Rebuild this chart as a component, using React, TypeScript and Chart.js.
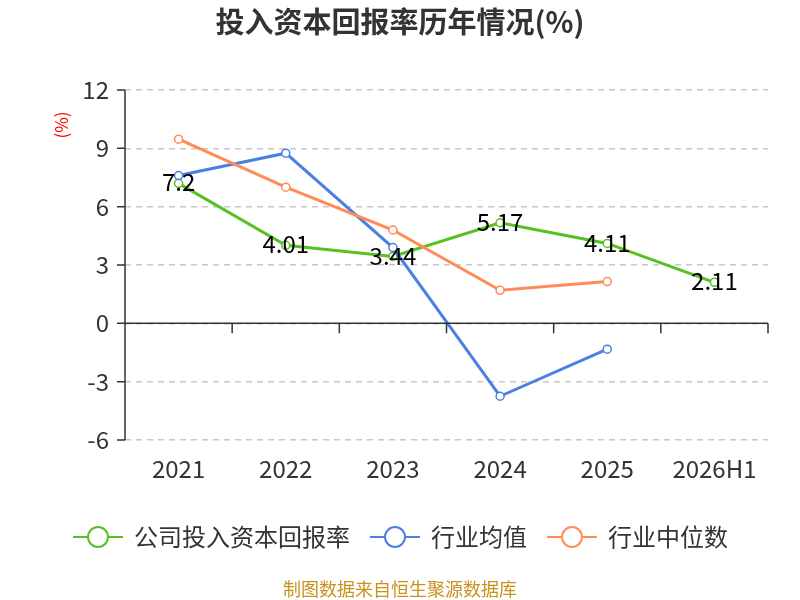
import { useEffect, useRef } from 'react';
import Chart from 'chart.js/auto';

const years = ['2021', '2022', '2023', '2024', '2025', '2026H1'];
const companyRoic = [7.2, 4.01, 3.44, 5.17, 4.11, 2.11];
const industryMean = [7.6, 8.75, 3.9, -3.75, -1.33, null];
const industryMedian = [9.47, 7.0, 4.8, 1.7, 2.15, null];
const seriesNames = ['公司投入资本回报率', '行业均值', '行业中位数'];
const seriesColors = ['#57c124', '#4a7fe3', '#ff8b56'];

const FONT = '"Noto Sans CJK SC", "Noto Sans", sans-serif';

const decorPlugin = {
    id: 'decor',
    afterDraw(chart: any) {
        const { ctx, chartArea } = chart;
        const yScale = chart.scales.y;
        const xScale = chart.scales.x;
        ctx.save();

        // axis line, zero line, tick marks
        ctx.strokeStyle = '#333';
        ctx.lineWidth = 1.5;
        ctx.setLineDash([]);
        ctx.beginPath();
        ctx.moveTo(chartArea.left, chartArea.top);
        ctx.lineTo(chartArea.left, chartArea.bottom);
        yScale.ticks.forEach((t: any) => {
            const y = yScale.getPixelForValue(t.value);
            ctx.moveTo(chartArea.left - 8, y);
            ctx.lineTo(chartArea.left, y);
        });
        const zeroY = yScale.getPixelForValue(0);
        ctx.moveTo(chartArea.left, zeroY);
        ctx.lineTo(chartArea.right, zeroY);
        const step = (chartArea.right - chartArea.left) / years.length;
        for (let i = 1; i <= years.length; i++) {
            const x = chartArea.left + step * i;
            ctx.moveTo(x, zeroY);
            ctx.lineTo(x, zeroY + 10);
        }
        ctx.stroke();

        // data labels for company series
        ctx.fillStyle = '#000';
        ctx.font = `24px ${FONT}`;
        ctx.textAlign = 'center';
        ctx.textBaseline = 'middle';
        companyRoic.forEach((v, i) => {
            ctx.fillText(String(v), xScale.getPixelForValue(i), yScale.getPixelForValue(v) - 1);
        });

        // title
        ctx.fillStyle = '#333';
        ctx.font = `bold 29px ${FONT}`;
        ctx.fillText('投入资本回报率历年情况(%)', 400, 22);

        // y axis unit
        ctx.save();
        ctx.translate(62, 125);
        ctx.rotate(-Math.PI / 2);
        ctx.fillStyle = '#ff0000';
        ctx.font = `17px ${FONT}`;
        ctx.fillText('(%)', 0, 0);
        ctx.restore();

        // legend
        const legendX = [73, 370, 547];
        const legendY = 537;
        ctx.textAlign = 'left';
        ctx.font = `24px ${FONT}`;
        seriesNames.forEach((name, i) => {
            const x0 = legendX[i];
            ctx.strokeStyle = seriesColors[i];
            ctx.lineWidth = 2;
            ctx.beginPath();
            ctx.moveTo(x0, legendY);
            ctx.lineTo(x0 + 50, legendY);
            ctx.stroke();
            ctx.beginPath();
            ctx.arc(x0 + 25, legendY, 10, 0, Math.PI * 2);
            ctx.fillStyle = '#fff';
            ctx.fill();
            ctx.stroke();
            ctx.fillStyle = '#333';
            ctx.fillText(name, x0 + 61, legendY);
        });

        // footer
        ctx.textAlign = 'center';
        ctx.fillStyle = '#c8921e';
        ctx.font = `18px ${FONT}`;
        ctx.fillText('制图数据来自恒生聚源数据库', 400, 589);

        ctx.restore();
    },
};

export default function App() {
    const canvasRef = useRef<HTMLCanvasElement>(null);

    useEffect(() => {
        if (!canvasRef.current) return;
        const makeSet = (i: number, data: (number | null)[]) => ({
            label: seriesNames[i],
            data,
            borderColor: seriesColors[i],
            backgroundColor: '#fff',
            borderWidth: 3,
            pointRadius: 4,
            pointBorderWidth: 1.5,
            pointBackgroundColor: '#fff',
            pointBorderColor: seriesColors[i],
            spanGaps: false,
        });
        const chart = new Chart(canvasRef.current, {
            type: 'line',
            data: {
                labels: years,
                datasets: [
                    makeSet(2, industryMedian),
                    makeSet(1, industryMean),
                    makeSet(0, companyRoic),
                ],
            },
            options: {
                responsive: false,
                animation: false,
                layout: { padding: { top: 90, right: 32, bottom: 110, left: 0 } },
                plugins: {
                    legend: { display: false },
                    tooltip: { enabled: false },
                    title: { display: false },
                },
                scales: {
                    x: {
                        offset: true,
                        grid: { display: false },
                        border: { display: false },
                        ticks: { color: '#333', font: { family: FONT, size: 24 }, padding: 6 },
                        afterFit: (s: any) => { s.height = 50; },
                    },
                    y: {
                        min: -6,
                        max: 12,
                        grid: { color: '#c8c8c8', lineWidth: 1.5, drawTicks: false },
                        border: { display: false, dash: [6, 5] },
                        ticks: { stepSize: 3, color: '#333', font: { family: FONT, size: 24 }, padding: 16 },
                        afterFit: (s: any) => { s.width = 125; },
                    },
                },
            },
            plugins: [decorPlugin],
        });
        return () => chart.destroy();
    }, []);

    return (
        <div style={{ position: 'absolute', left: 0, top: 0, width: 800, height: 600, background: '#fff' }}>
            <canvas ref={canvasRef} width={800} height={600} />
        </div>
    );
}
